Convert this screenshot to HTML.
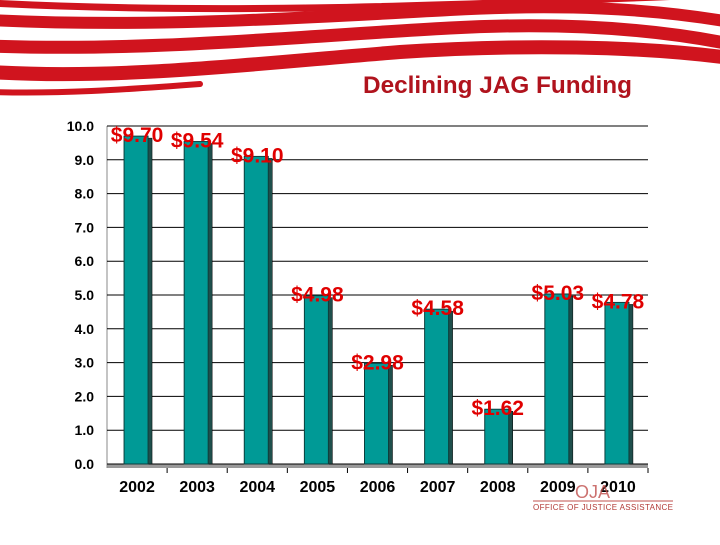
<!DOCTYPE html>
<html><head><meta charset="utf-8"><style>
body{margin:0;background:#fff;}
svg text{font-family:"Liberation Sans",sans-serif;}
</style></head><body>
<svg width="720" height="540" xmlns="http://www.w3.org/2000/svg">
<g fill="none" stroke="#d0141e" stroke-linecap="round">
<path d="M-10,3 C200,14 400,8 730,-6" stroke-width="7"/>
<path d="M-10,20 C150,28 300,18 450,10 C560,4 650,8 730,22" stroke-width="12"/>
<path d="M-10,46 C150,52 300,36 450,28 C560,22 650,28 730,44" stroke-width="13"/>
<path d="M-10,72 C120,80 250,64 400,52 C520,44 640,46 730,58" stroke-width="14"/>
<path d="M-10,92 C60,94 120,90 200,84" stroke-width="6"/>
</g>
<text x="363" y="93" font-size="24" font-weight="bold" fill="#b0131d" textLength="269" lengthAdjust="spacingAndGlyphs">Declining JAG Funding</text>
<g id="chart"></g>
<g>
<text x="575" y="498" font-size="18" fill="#c0504d" font-family="Liberation Serif" opacity="0.8">OJA</text>
<line x1="533" y1="501" x2="673" y2="501" stroke="#c0504d" stroke-width="1"/>
<text x="533" y="510" font-size="8" fill="#b23a36" font-family="Liberation Serif" textLength="140">OFFICE OF JUSTICE ASSISTANCE</text>
</g>
</svg>
<script>
const categories=["2002","2003","2004","2005","2006","2007","2008","2009","2010"];
const values=[9.70,9.54,9.10,4.98,2.98,4.58,1.62,5.03,4.78];
const valueLabels=["$9.70","$9.54","$9.10","$4.98","$2.98","$4.58","$1.62","$5.03","$4.78"];
const yTicks=[0,1,2,3,4,5,6,7,8,9,10];
const yTickLabels=["0.0","1.0","2.0","3.0","4.0","5.0","6.0","7.0","8.0","9.0","10.0"];
const NS="http://www.w3.org/2000/svg";
const g=document.getElementById('chart');
const L=107,R=648,T=126,B=464;
const y=v=>B-(v/10)*(B-T);
const bw=(R-L)/categories.length;
const x=i=>L+bw*(i+0.5);
function mk(t,a,p){const e=document.createElementNS(NS,t);for(const k in a)e.setAttribute(k,a[k]);(p||g).appendChild(e);return e;}
mk('rect',{x:L,y:B,width:R-L,height:4,fill:'#999'});
mk('line',{x1:L,y1:T,x2:L,y2:B+4,stroke:'#888'});
yTicks.forEach((t,i)=>{
  const l=mk('line',{x1:L,y1:y(t),x2:R,y2:y(t),stroke:'#000','stroke-width':1});
  
  
  const tx=mk('text',{x:94,y:y(t)+5,'text-anchor':'end','font-size':14,'font-weight':'bold',fill:'#000'});
  tx.textContent=yTickLabels[i];
  
  
});
categories.forEach((c,i)=>{
  const cx=x(i),top=y(values[i]);
  const s=mk('rect',{x:cx+10,y:top+2,width:5,height:B-top-2,fill:'#1f4f4c',stroke:'#000','stroke-width':0.5});
  
  
  const b=mk('rect',{x:cx-13,y:top,width:24,height:B-top,fill:'#009a96',stroke:'#0c3f3d','stroke-width':1});
  
  
  const lb=mk('text',{x:cx,y:top+6,'text-anchor':'middle','font-size':21,'font-weight':'bold',fill:'#e00000'});
  lb.textContent=valueLabels[i];
  
  
  const xl=mk('text',{x:cx,y:492,'text-anchor':'middle','font-size':16,'font-weight':'bold',fill:'#000'});
  xl.textContent=c;
  
  
  const tk=mk('line',{x1:L+bw*(i+1),y1:B+4,x2:L+bw*(i+1),y2:B+9,stroke:'#000'});
  
  
});
</script>
</body></html>
